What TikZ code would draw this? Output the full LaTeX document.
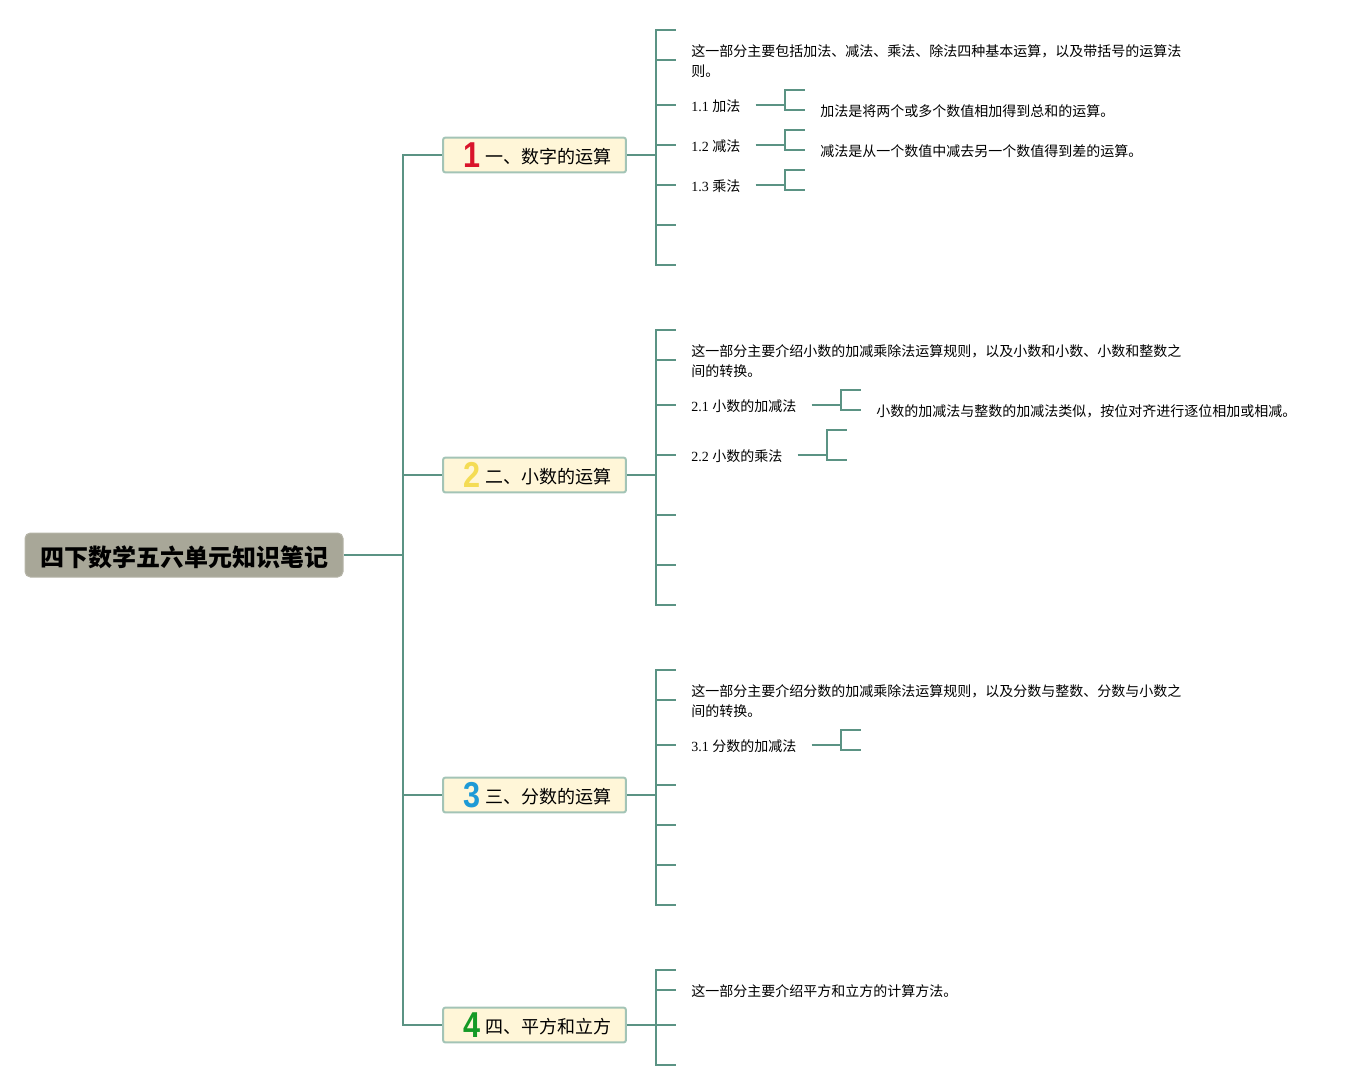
\documentclass[tikz,border=0pt]{standalone}
\usepackage{fontspec}
\setmainfont{Liberation Serif}
\newfontfamily\cjk{Noto Sans CJK SC}
\newfontfamily\digitfont{Liberation Sans}
\usetikzlibrary{positioning}
\definecolor{linegreen}{HTML}{5B9384}
\definecolor{edgegreen}{HTML}{A3C4B6}
\definecolor{topicfill}{HTML}{FFF6D8}
\definecolor{rootfill}{HTML}{A8A798}
\definecolor{num1}{HTML}{D9142B}
\definecolor{num2}{HTML}{F4DC55}
\definecolor{num3}{HTML}{1E9AD6}
\definecolor{num4}{HTML}{159A26}
\tikzset{
  conn/.style={draw=linegreen, line width=1.5pt},
  root/.style={draw=rootfill!85!white, fill=rootfill, rounded corners=4pt, line width=0.75pt, minimum width=238.5pt, minimum height=33pt, inner sep=0pt, text height=16.6pt, text depth=0pt, font=\cjk\bfseries\fontsize{18}{22}\selectfont},
  topic/.style={draw=edgegreen, fill=topicfill, rounded corners=1.5pt, line width=1.5pt, minimum width=137pt, minimum height=26pt, inner sep=0pt},
  topictext/.style={anchor=west, inner sep=0pt, font=\cjk\fontsize{13.5}{16}\selectfont},
  num/.style={inner sep=0pt, xscale=0.85, font=\digitfont\bfseries\fontsize{27}{30}\selectfont},
  leaf/.style={anchor=west, inner xsep=11.25pt, inner ysep=1pt, text height=9.8pt, text depth=0pt, font=\fontsize{10.5}{15}\selectfont},
  para/.style={anchor=west, inner xsep=11.25pt, inner ysep=1pt, align=left, text height=25.2pt, text depth=0pt, font=\fontsize{10.5}{15}\selectfont},
}
\begin{document}
\begin{tikzpicture}[x=0.75pt, y=-0.75pt]
    \useasboundingbox (0,0) rectangle (1356,1090);
    % root and topics
    \node[root] (root) at (184,555) {四下数学五六单元知识笔记};
    \node[topic] (t1) at (534.5,155) {};
    \node[topic] (t2) at (534.5,475) {};
    \node[topic] (t3) at (534.5,795) {};
    \node[topic] (t4) at (534.5,1025) {};
    \foreach \n/\lab in {1/一、数字的运算, 2/二、小数的运算, 3/三、分数的运算, 4/四、平方和立方} {
      \node[num, text=num\n] (n\n) at ([xshift=-47pt]t\n.center) {\n};
      \node[topictext] (x\n) at ([xshift=-37.1pt,yshift=-1.2pt]t\n.center) {\lab};
    }
    \coordinate (main) at (403,555);
    \draw[conn] (root.east) -- (main);
    \foreach \n in {1,2,3,4} \draw[conn] (main) |- (t\n.west);
    % first level brackets
    \coordinate (g1) at (656,155);
    \coordinate (g2) at (656,475);
    \coordinate (g3) at (656,795);
    \coordinate (g4) at (656,1025);
    \foreach \n in {1,2,3,4} \draw[conn] (t\n.east) -- (g\n);
    % texts
    \node[para] (a1) at (676,60) {\cjk 这一部分主要包括加法、减法、乘法、除法四种基本运算，以及带括号的运算法\\\cjk 则。};
    \node[leaf] (a2) at (676,105) {1.1 {\cjk 加法}};
    \node[leaf] (a3) at (676,145) {1.2 {\cjk 减法}};
    \node[leaf] (a4) at (676,185) {1.3 {\cjk 乘法}};
    \node[para] (b1) at (676,360) {\cjk 这一部分主要介绍小数的加减乘除法运算规则，以及小数和小数、小数和整数之\\\cjk 间的转换。};
    \node[leaf] (b2) at (676,405) {2.1 {\cjk 小数的加减法}};
    \node[leaf] (b3) at (676,455) {2.2 {\cjk 小数的乘法}};
    \node[para] (c1) at (676,700) {\cjk 这一部分主要介绍分数的加减乘除法运算规则，以及分数与整数、分数与小数之\\\cjk 间的转换。};
    \node[leaf] (c2) at (676,745) {3.1 {\cjk 分数的加减法}};
    \node[leaf] (d1) at (676,990) {\cjk 这一部分主要介绍平方和立方的计算方法。};
    \node[leaf] (e1) at (805,110) {\cjk 加法是将两个或多个数值相加得到总和的运算。};
    \node[leaf] (e2) at (805,150) {\cjk 减法是从一个数值中减去另一个数值得到差的运算。};
    \node[leaf] (e3) at (861,410) {\cjk 小数的加减法与整数的加减法类似，按位对齐进行逐位相加或相减。};
    % empty ends
    \foreach \m/\y in {p1/30, p2/225, p3/265, p4/330, p5/515, p6/565, p7/605, p8/670, p9/785, p10/825, p11/865, p12/905, p13/970, p14/1025, p15/1065}
      \coordinate (\m) at (676,\y);
    \foreach \g/\m in {g1/p1, g1/a1, g1/a2, g1/a3, g1/a4, g1/p2, g1/p3,
                       g2/p4, g2/b1, g2/b2, g2/b3, g2/p5, g2/p6, g2/p7,
                       g3/p8, g3/c1, g3/c2, g3/p9, g3/p10, g3/p11, g3/p12,
                       g4/p13, g4/d1, g4/p14, g4/p15}
      \draw[conn] (\g) |- (\m);
    % second level brackets
    \coordinate (k1) at (785,105);
    \coordinate (k2) at (785,145);
    \coordinate (k3) at (785,185);
    \coordinate (k4) at (841,405);
    \coordinate (k5) at (827,455);
    \coordinate (k6) at (841,745);
    \foreach \l/\k in {a2/k1, a3/k2, a4/k3, b2/k4, b3/k5, c2/k6} \draw[conn] (\l.east) -- (\k);
    \foreach \m/\x/\y in {q1/805/90, q2/805/130, q3/805/170, q4/805/190, q5/861/390, q6/847/430, q7/847/460, q8/861/730, q9/861/750}
      \coordinate (\m) at (\x,\y);
    \foreach \k/\m in {k1/q1, k1/e1, k2/q2, k2/e2, k3/q3, k3/q4, k4/q5, k4/e3, k5/q6, k5/q7, k6/q8, k6/q9}
      \draw[conn] (\k) |- (\m);
  \end{tikzpicture}
\end{document}
